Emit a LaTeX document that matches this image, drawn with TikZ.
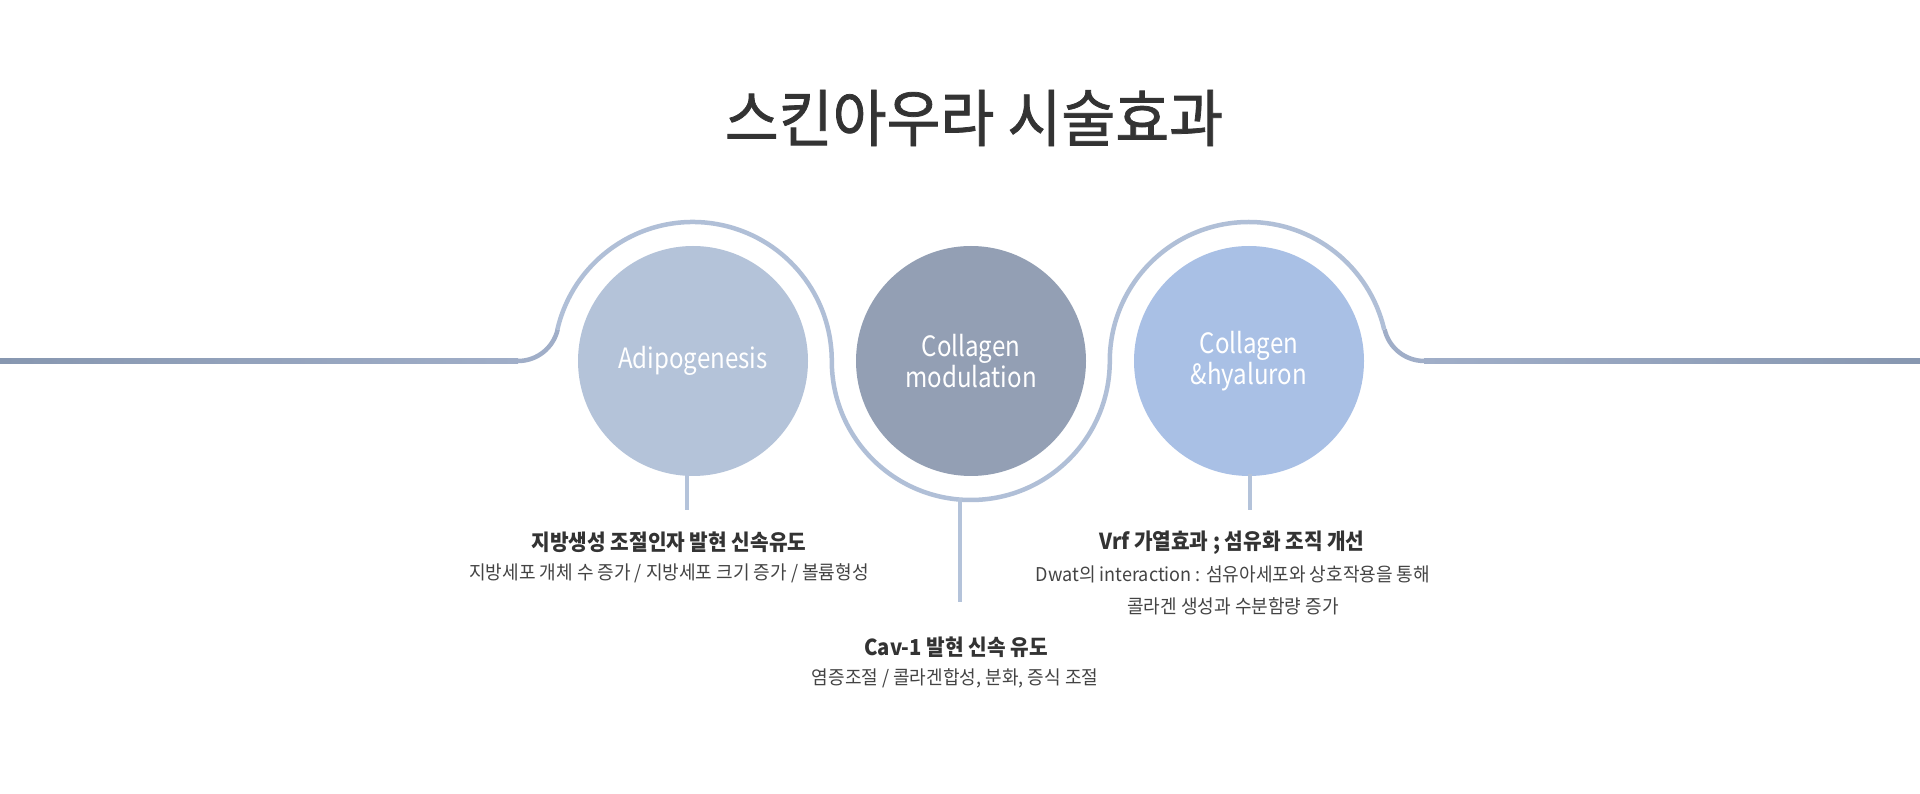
\documentclass[tikz,border=0pt]{standalone}
\usepackage{fontspec}
\setmainfont{Noto Sans CJK KR}
\newfontfamily\titlefont[FakeStretch=0.945,FakeBold=1.2]{Noto Sans CJK KR}
\newfontfamily\circfont[FakeStretch=0.86]{Noto Sans CJK KR}
\newfontfamily\headfont[FakeStretch=0.92]{Noto Sans CJK KR}
\newfontfamily\bodyfont[FakeStretch=0.95]{Noto Sans CJK KR}
\definecolor{cA}{HTML}{B4C3D9}
\definecolor{cB}{HTML}{939FB4}
\definecolor{cC}{HTML}{A9C0E5}
\definecolor{arcc}{HTML}{B0BFD7}
\definecolor{hnear}{HTML}{A0AEC8}
\definecolor{hfar}{HTML}{8797B0}
\definecolor{stemc}{HTML}{B4C3DA}
\definecolor{tdark}{HTML}{333333}
\definecolor{tbody}{HTML}{444444}
\begin{document}
\begin{tikzpicture}[x=1pt,y=1pt,
  bubble/.style={circle,minimum size=230pt,inner sep=0pt,draw=none,text=white,align=center,font=\circfont\fontsize{28}{31.6}\selectfont},
  wave/.style={line width=4.5pt,draw=arcc},
  flat/.style={line width=4.5pt,draw=hnear},
  stemline/.style={line width=4pt,draw=stemc},
  headtxt/.style={text=tdark,font=\headfont\fontsize{22}{26}\selectfont\bfseries,inner sep=0pt},
  bodytxt/.style={text=tbody,font=\bodyfont\fontsize{19}{32}\selectfont,inner sep=0pt,align=center}]
\useasboundingbox (0,0) rectangle (1920,793);
\fill[white] (0,0) rectangle (1920,793);

% title
\node[text=tdark,font=\titlefont\fontsize{62}{66}\selectfont,inner sep=0pt] (title) at (974,675) {스킨아우라 시술효과};

% wave: outer horizontal parts with gradient
\coordinate (wl) at (0,432);
\coordinate (fl) at (518,432);
\coordinate (fr) at (1424,432);
\coordinate (wr) at (1920,432);
\shade[left color=hfar,right color=hnear] ([yshift=-2.25pt]wl) rectangle ([yshift=2.25pt]fl);
\shade[left color=hnear,right color=hfar] ([yshift=-2.25pt]fr) rectangle ([yshift=2.25pt]wr);
\draw[flat] ([xshift=-0.5pt]fl) -- (fl) arc[start angle=270,end angle=346.9,radius=40.7];
\draw[wave] (557.4,463.5) arc[start angle=166.9,end angle=0,radius=139]
  arc[start angle=180,end angle=360,radius=139]
  arc[start angle=180,end angle=13.1,radius=139];
\draw[flat] (1384.6,463.5) arc[start angle=193.1,end angle=270,radius=40.7] -- ([xshift=0.5pt]fr);

% circles
\node[bubble,fill=cA] (c1) at (693,432) {Adipogenesis};
\node[bubble,fill=cB] (c2) at (971,432) {Collagen\\modulation};
\node[bubble,fill=cC] (c3) at (1249,432) {Collagen\\\&hyaluron};

% stems
\coordinate (s1) at (687,283);
\coordinate (a2) at (960,295);
\coordinate (s2) at (960,191);
\coordinate (s3) at (1250,283);
\draw[stemline] ([xshift=-6pt,yshift=2pt]c1.south) -- (s1);
\draw[stemline] (a2) -- (s2);
\draw[stemline] ([xshift=1pt,yshift=2pt]c3.south) -- (s3);

% texts
\node[headtxt] (h1) at (669,251) {지방생성 조절인자 발현 신속유도};
\node[bodytxt] (b1) at (669,220) {지방세포 개체 수 증가 / 지방세포 크기 증가 / 볼륨형성};
\node[headtxt] (h2) at (956,146) {Cav-1 발현 신속 유도};
\node[bodytxt] (b2) at (955,115) {염증조절 / 콜라겐합성, 분화, 증식 조절};
\node[headtxt] (h3) at (1232,250) {Vrf 가열효과 ; 섬유화 조직 개선};
\node[bodytxt] (b3) at (1233,203) {Dwat의 interaction : 섬유아세포와 상호작용을 통해\\콜라겐 생성과 수분함량 증가};
\end{tikzpicture}
\end{document}
